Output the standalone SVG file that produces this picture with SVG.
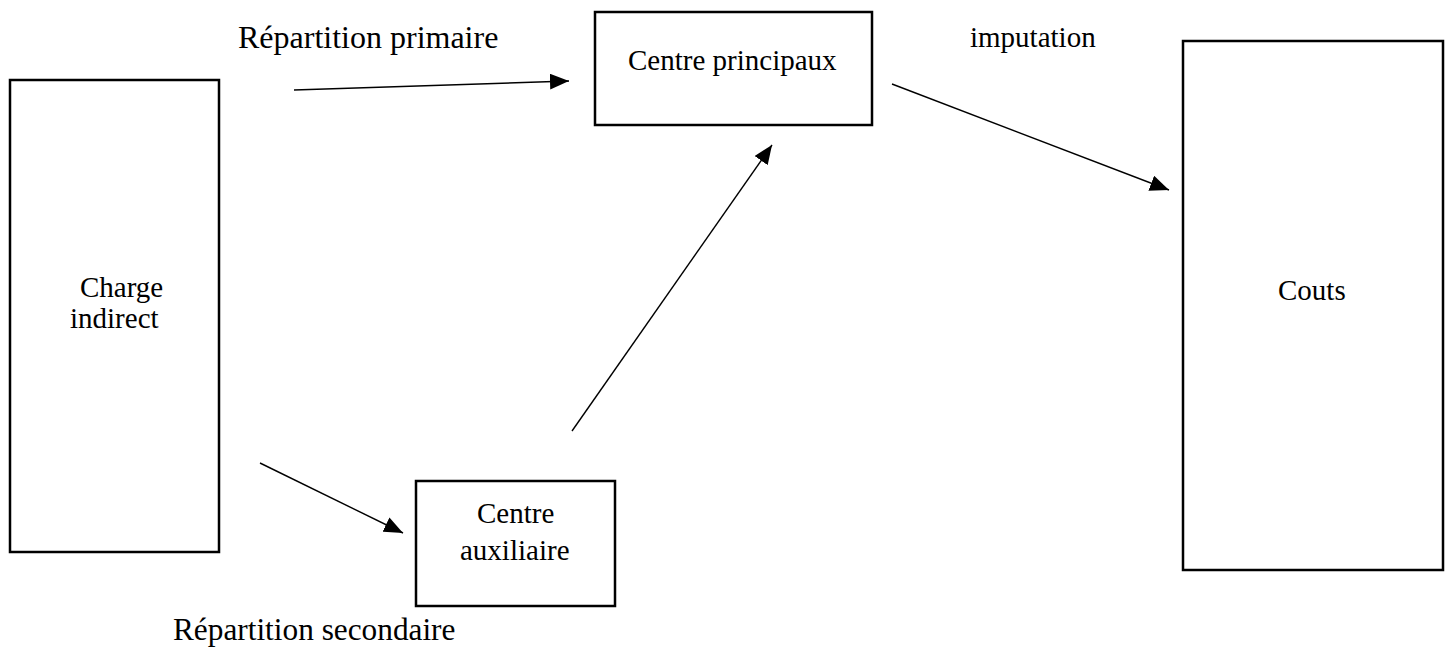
<svg xmlns="http://www.w3.org/2000/svg" width="1447" height="647" viewBox="0 0 1447 647">
  <style>
    .box { fill: #ffffff; stroke: #000000; stroke-width: 2.5; }
    .lbl { font-family: "Liberation Serif", "Times New Roman", serif; font-size: 29px; fill: #000000; }
    .cap { font-family: "Liberation Serif", "Times New Roman", serif; font-size: 32px; fill: #000000; }
    .link { stroke: #000000; stroke-width: 1.4; fill: none; marker-end: url(#arrow); }
  </style>
  <defs>
    <marker id="arrow" markerUnits="userSpaceOnUse" markerWidth="20" markerHeight="16" refX="19" refY="8" orient="auto">
      <path d="M0,0 L19,8 L0,16 Z" fill="#000000"/>
    </marker>
  </defs>
  <rect width="1447" height="647" fill="#ffffff"/>

  <g id="charge-indirect">
    <rect class="box" x="10" y="80" width="209" height="472"/>
    <text class="lbl" x="80" y="297">Charge</text>
    <text class="lbl" x="70" y="328">indirect</text>
  </g>

  <g id="centre-principaux">
    <rect class="box" x="595" y="12" width="277" height="113"/>
    <text class="lbl" x="628" y="70">Centre principaux</text>
  </g>

  <g id="centre-auxiliaire">
    <rect class="box" x="416" y="481" width="199" height="125"/>
    <text class="lbl" x="477" y="523">Centre</text>
    <text class="lbl" x="460" y="560">auxiliaire</text>
  </g>

  <g id="couts">
    <rect class="box" x="1183" y="41" width="260" height="529"/>
    <text class="lbl" x="1278" y="300">Couts</text>
  </g>

  <g id="connectors">
    <line class="link" x1="294" y1="90" x2="569" y2="81"/>
    <line class="link" x1="892" y1="84" x2="1169" y2="190"/>
    <line class="link" x1="572" y1="431" x2="772" y2="145"/>
    <line class="link" x1="260" y1="463" x2="403" y2="533"/>
  </g>

  <g id="labels">
    <text class="cap" x="238" y="48">Répartition primaire</text>
    <text class="lbl" x="970" y="47">imputation</text>
    <text class="cap" x="173" y="640" style="font-size:31.3px">Répartition secondaire</text>
  </g>
</svg>
